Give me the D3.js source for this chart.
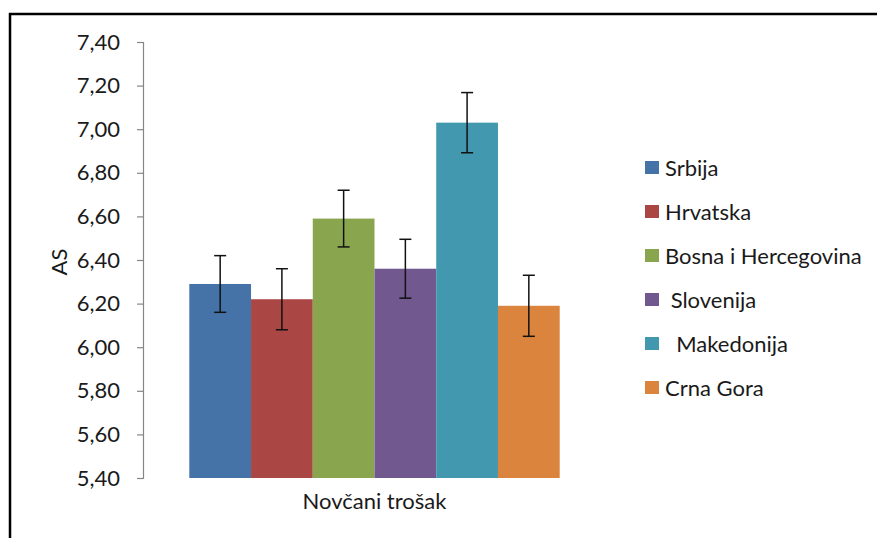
<!DOCTYPE html>
<html><head><meta charset="utf-8">
<script src="https://cdn.jsdelivr.net/npm/d3@7"></script>
<style>
html,body{margin:0;padding:0;background:#fff;}
svg{display:block;}
text{font-family:Lato,"Liberation Sans",sans-serif;fill:#1a1a1a;}
</style></head>
<body>
<svg id="chart" width="877" height="538"></svg>
<script>
const categories = ["Novčani trošak"];
const seriesNames = ["Srbija","Hrvatska","Bosna i Hercegovina"," Slovenija","  Makedonija","Crna Gora"];
const seriesValues = [6.29, 6.22, 6.59, 6.36, 7.03, 6.19];
const seriesErrors = [0.13, 0.14, 0.13, 0.135, 0.138, 0.14];
const seriesColors = ["#4572A7","#AA4643","#89A54E","#71588F","#4198AF","#DB843D"];
const yTicks = [5.4,5.6,5.8,6.0,6.2,6.4,6.6,6.8,7.0,7.2,7.4];
const yTitle = "AS";

const FS = 22;
const svg = d3.select("#chart");
// outer frame
svg.append("rect").attr("x",10).attr("y",14).attr("width",900).attr("height",600)
  .attr("fill","none").attr("stroke","#000").attr("stroke-width",2.5);

const plot = {left:143, right:606, top:42, bottom:478};
const y = d3.scaleLinear().domain([5.4,7.4]).range([plot.bottom, plot.top]);
const x0 = d3.scaleBand().domain(categories).range([plot.left, plot.right]).paddingInner(0).paddingOuter(0);
const groupW = x0.bandwidth();
const barW = groupW / (seriesNames.length + 1.5);
const x1 = d3.scaleBand().domain(d3.range(seriesNames.length))
  .range([barW*0.75, groupW - barW*0.75]).padding(0);

const fmt = d => d.toFixed(2).replace(".", ",");
const yAxis = d3.axisLeft(y).tickValues(yTicks).tickFormat(fmt).tickSize(6).tickPadding(17);
const gy = svg.append("g").attr("transform",`translate(${plot.left},0)`).call(yAxis);
gy.select(".domain").attr("stroke","#868686").attr("stroke-width",1.2);
gy.selectAll(".tick line").attr("stroke","#868686").attr("stroke-width",1.2);
gy.selectAll(".tick text").attr("font-size",FS).style("fill","#1a1a1a")
  .style("font-family","Lato, 'Liberation Sans', sans-serif");

const g = svg.append("g");
categories.forEach(cat => {
  const gx = x0(cat);
  seriesValues.forEach((v,i) => {
    g.append("rect").attr("x", gx + x1(i)).attr("y", y(v))
      .attr("width", x1.bandwidth()).attr("height", y(5.4) - y(v))
      .attr("fill", seriesColors[i]);
  });
  seriesValues.forEach((v,i) => {
    const cx = gx + x1(i) + x1.bandwidth()/2;
    const e = seriesErrors[i];
    g.append("line").attr("x1",cx).attr("x2",cx).attr("y1",y(v+e)).attr("y2",y(v-e))
      .attr("stroke","#111").attr("stroke-width",1.5);
    [v+e, v-e].forEach(t => g.append("line").attr("x1",cx-6).attr("x2",cx+6)
      .attr("y1",y(t)).attr("y2",y(t)).attr("stroke","#111").attr("stroke-width",1.5));
  });
  svg.append("text").attr("x", gx + groupW/2).attr("y", 509)
    .attr("text-anchor","middle").attr("font-size",FS).text(cat);
});

svg.append("text").attr("transform","translate(67,262) rotate(-90)")
  .attr("text-anchor","middle").attr("font-size",FS).text(yTitle);

const leg = svg.append("g");
seriesNames.forEach((n,i) => {
  const cy = 168 + i*44;
  leg.append("rect").attr("x",645).attr("y",cy-7).attr("width",14).attr("height",13)
    .attr("fill",seriesColors[i]);
  leg.append("text").attr("x",665).attr("y",cy+8).attr("font-size",FS)
    .style("white-space","pre").text(n);
});
</script>
</body></html>
